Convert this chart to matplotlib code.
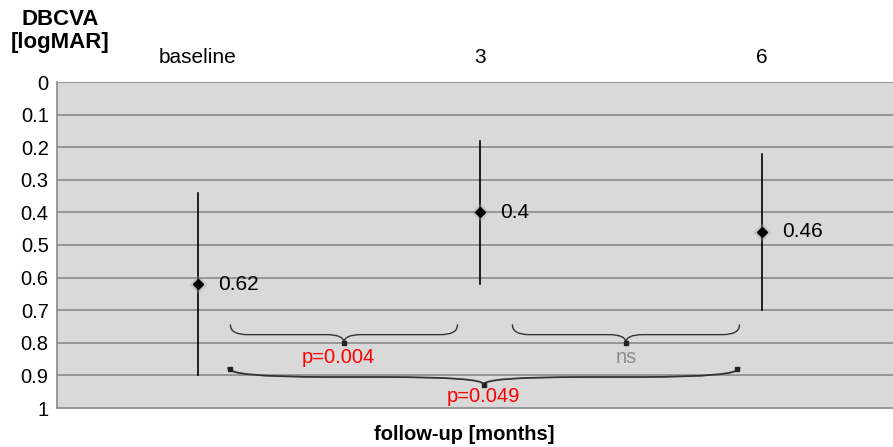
import matplotlib.pyplot as plt
from matplotlib.path import Path
from matplotlib.patches import PathPatch

plt.rcParams['font.family'] = ['Liberation Sans', 'DejaVu Sans']

# data
categories = ['baseline', '3', '6']
means = [0.62, 0.40, 0.46]
err_top = [0.34, 0.18, 0.22]
err_bottom = [0.90, 0.62, 0.70]
y_ticks = [0, 0.1, 0.2, 0.3, 0.4, 0.5, 0.6, 0.7, 0.8, 0.9, 1]

# comparisons: (start index, end index, label, colour)
comparisons = [
    (0, 1, 'p=0.004', '#ff0000'),
    (1, 2, 'ns', '#8c8c8c'),
    (0, 2, 'p=0.049', '#ff0000'),
]


def brace(ax, x0, x1, y_end, y_line, y_tip, d, lw=1.0):
    xm = (x0 + x1) / 2
    verts = [(x0, y_end), (x0, y_line), (x0 + d, y_line),
             (xm - d, y_line), (xm, y_line), (xm, y_tip),
             (xm, y_line), (xm + d, y_line),
             (x1 - d, y_line), (x1, y_line), (x1, y_end)]
    codes = [Path.MOVETO, Path.CURVE3, Path.CURVE3,
             Path.LINETO, Path.CURVE3, Path.CURVE3,
             Path.CURVE3, Path.CURVE3,
             Path.LINETO, Path.CURVE3, Path.CURVE3]
    ax.add_patch(PathPatch(Path(verts, codes), fill=False, lw=lw,
                           ec='#333333', capstyle='round', zorder=4))
    ax.plot([xm], [y_tip], marker='s', ms=2.5, color='#222222', zorder=5)
    return xm


fig = plt.figure(figsize=(8.93, 4.47), dpi=100)
ax = fig.add_axes([57 / 893, 1 - 408 / 447, (903 - 57) / 893, (408 - 82) / 447])
ax.set_facecolor('#d9d9d9')

x = list(range(len(categories)))
ax.set_xlim(-0.5, 2.5)
ax.set_ylim(1, 0)
ax.set_yticks(y_ticks)
ax.set_yticklabels([f'{t:g}' for t in y_ticks], fontsize=14.5)
ax.tick_params(axis='y', length=0, pad=6)
ax.set_xticks([])
for t in y_ticks[1:-1]:
    ax.axhline(t, color='#8a8a8a', lw=1.2, zorder=1)

for s in ['top', 'right']:
    ax.spines[s].set_visible(False)
ax.spines['left'].set_color('#8a8a8a')
ax.spines['bottom'].set_color('#8a8a8a')
ax.spines['left'].set_linewidth(1.2)
ax.spines['bottom'].set_linewidth(1.2)
ax.axhline(0, color='#8a8a8a', lw=1.2, zorder=1)

for xi, m, lo, hi, c in zip(x, means, err_top, err_bottom, categories):
    ax.plot([xi, xi], [lo, hi], color='black', lw=1.2, zorder=3)
    ax.plot(xi, m, marker='D', ms=9, color='#9a9a9a', alpha=0.35, mec='none', zorder=3)
    ax.plot(xi, m, marker='D', ms=5, color='black', zorder=4)
    ax.text(xi + 0.07, m, f'{m:g}', fontsize=15, va='center', ha='left', zorder=5)
    ax.text(xi, -0.075, c, fontsize=15, ha='center', va='center')

# braces
for i0, i1, lab, col in comparisons:
    if i1 - i0 == 1:
        xm = brace(ax, x[i0] + 0.115, x[i1] - 0.08, 0.745, 0.775, 0.80, 0.06)
        ax.text(xm - 0.02 if col != '#8c8c8c' else xm, 0.845, lab, color=col,
                fontsize=14.5, ha='center', va='center')
    else:
        xm = brace(ax, x[i0] + 0.107, x[i1] - 0.08, 0.877, 0.905, 0.928, 0.35, lw=1.3)
        ax.plot([x[i0] + 0.115, x[i1] - 0.09], [0.879, 0.879], 's',
                ms=2.5, color='#222222', zorder=5)
        ax.text(xm, 0.966, lab, color=col, fontsize=14.5, ha='center', va='center')

fig.text(60 / 893, 1 - 31 / 447, 'DBCVA\n[logMAR]', fontsize=16, fontweight='bold',
         ha='center', va='center', linespacing=1.15)
fig.text(464 / 893, 1 - 435 / 447, 'follow-up [months]', fontsize=14.5,
         fontweight='bold', ha='center', va='center')

fig.savefig('out.png', dpi=100)
